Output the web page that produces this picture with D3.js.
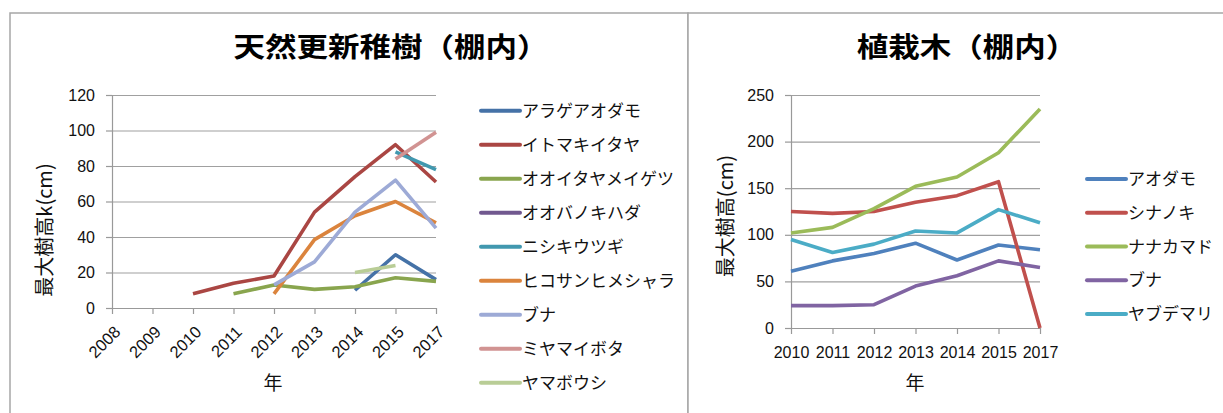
<!DOCTYPE html>
<html>
<head>
<meta charset="utf-8">
<script src="https://cdn.jsdelivr.net/npm/d3@7"></script>
<style>
  html, body { margin: 0; padding: 0; background: #fff; }
  svg { display: block; }
  .jp { font-family: "Noto Sans CJK JP", "Noto Sans", sans-serif; }
  .num { font-family: "Liberation Sans", Arial, sans-serif; }
</style>
</head>
<body>
<svg id="chart" width="1223" height="413"></svg>
<script>
// ---- 天然更新稚樹（棚内） ----
const naturalTitle = "天然更新稚樹（棚内）";
const naturalYears = ["2008", "2009", "2010", "2011", "2012", "2013", "2014", "2015", "2017"];
const naturalSpecies = ["アラゲアオダモ", "イトマキイタヤ", "オオイタヤメイゲツ", "オオバノキハダ",
  "ニシキウツギ", "ヒコサンヒメシャラ", "ブナ", "ミヤマイボタ", "ヤマボウシ"];
const araGeAodamo      = [null, null, null, null, null, null, 10, 30, 16];
const itomakiItaya     = [null, null, 8, 14, 18, 54, 74, 92, 71];
const ooitayaMeigetsu  = [null, null, null, 8, 13, 10.5, 12, 17, 15];
const oobanoKihada     = [null, null, null, null, null, null, null, null, null];
const nishikiUtsugi    = [null, null, null, null, null, null, null, 88, 78];
const hikosanHimeshara = [null, null, null, null, 8, 38.5, 52, 60, 48];
const bunaNatural      = [null, null, null, null, 13, 26, 54, 72, 45];
const miyamaIbota      = [null, null, null, null, null, null, null, 84, 99];
const yamabousi        = [null, null, null, null, null, null, 20, 24, null];
const naturalTicks = [0, 20, 40, 60, 80, 100, 120];
const naturalYLabel = "最大樹高k(cm)";

// ---- 植栽木（棚内） ----
const plantedTitle = "植栽木（棚内）";
const plantedYears = ["2010", "2011", "2012", "2013", "2014", "2015", "2017"];
const plantedSpecies = ["アオダモ", "シナノキ", "ナナカマド", "ブナ", "ヤブデマリ"];
const aodamo     = [61, 72, 80, 91, 73, 89, 84];
const shinanoki  = [125, 123, 125, 135, 142, 157, 0];
const nanakamado = [102, 108, 128, 152, 162, 188, 235];
const bunaPlanted = [24, 24, 25, 45, 56, 72, 65];
const yabudemari = [95, 81, 90, 104, 102, 127, 113];
const plantedTicks = [0, 50, 100, 150, 200, 250];
const plantedYLabel = "最大樹高(cm)";

const xLabel = "年";

const svg = d3.select("#chart");

// chart frames
svg.append("rect").attr("x", 10).attr("y", 13).attr("width", 678).attr("height", 420)
  .attr("fill", "#fff").attr("stroke", "#a6a6a6").attr("stroke-width", 1.5);
svg.append("rect").attr("x", 688).attr("y", 13).attr("width", 560).attr("height", 420)
  .attr("fill", "#fff").attr("stroke", "#a6a6a6").attr("stroke-width", 1.5);

function drawChart(cfg) {
  const g = svg.append("g");
  const x = d3.scalePoint().domain(cfg.years).range(cfg.xRange);
  const y = d3.scaleLinear().domain([0, d3.max(cfg.ticks)]).range(cfg.yRange);

  // horizontal gridlines
  g.append("g")
    .attr("transform", `translate(${cfg.xRange[0]},0)`)
    .call(d3.axisLeft(y).tickValues(cfg.ticks).tickSize(-(cfg.xRange[1] - cfg.xRange[0])).tickFormat(""))
    .call(a => a.select(".domain").remove())
    .call(a => a.selectAll("line").attr("stroke", "#a0a0a0").attr("stroke-width", 1.2));

  // y axis
  const ya = g.append("g")
    .attr("transform", `translate(${cfg.xRange[0]},0)`)
    .call(d3.axisLeft(y).tickValues(cfg.ticks).tickSize(6).tickPadding(11).tickSizeOuter(0));
  ya.select(".domain").attr("stroke", "#999").attr("stroke-width", 1.2);
  ya.selectAll("line").attr("stroke", "#999").attr("stroke-width", 1.2);
  ya.selectAll("text").attr("class", "num").attr("font-size", 16).attr("fill", "#111");

  // x axis
  const xa = g.append("g")
    .attr("transform", `translate(0,${cfg.yRange[0]})`)
    .call(d3.axisBottom(x).tickSize(6).tickPadding(cfg.xTickPadding).tickSizeOuter(0));
  xa.select(".domain").attr("stroke", "#999").attr("stroke-width", 1.2);
  xa.selectAll("line").attr("stroke", "#999").attr("stroke-width", 1.2);
  xa.selectAll("text").attr("class", "num").attr("font-size", 16).attr("fill", "#111");
  if (cfg.rotateTicks) {
    xa.selectAll("text")
      .attr("font-size", 16.5)
      .attr("text-anchor", "end")
      .attr("y", 0).attr("dy", "0.35em")
      .attr("transform", "translate(5,21) rotate(-45)");
  }

  // series lines
  const line = d3.line()
    .defined(d => d.v != null)
    .x(d => x(d.year))
    .y(d => y(d.v));
  cfg.series.forEach((s, i) => {
    const pts = cfg.years.map((yr, j) => ({ year: yr, v: s[j] }));
    g.append("path")
      .attr("d", line(pts))
      .attr("fill", "none")
      .attr("stroke", cfg.colors[i])
      .attr("stroke-width", 3.6)
      .attr("stroke-linejoin", "round");
  });

  // titles
  g.append("text").attr("class", "jp")
    .attr("x", cfg.titleX).attr("y", 57)
    .attr("text-anchor", "middle")
    .attr("font-size", 27).attr("font-weight", "bold").attr("fill", "#000")
    .attr("textLength", cfg.title.length * 31.5)
    .attr("lengthAdjust", "spacingAndGlyphs")
    .text(cfg.title);

  g.append("text").attr("class", "jp")
    .attr("transform", `translate(${cfg.yLabelX},${cfg.yLabelY}) rotate(-90)`)
    .attr("text-anchor", "middle").attr("dy", "0.35em")
    .attr("font-size", 20).attr("fill", "#111")
    .text(cfg.yLabel);

  g.append("text").attr("class", "jp")
    .attr("x", cfg.xLabelX).attr("y", 383).attr("dy", "0.35em")
    .attr("text-anchor", "middle")
    .attr("font-size", 19).attr("fill", "#111")
    .text(xLabel);

  // legend
  const lg = g.append("g");
  cfg.names.forEach((name, i) => {
    const ly = cfg.legendY + i * cfg.legendStep;
    lg.append("line")
      .attr("x1", cfg.legendX).attr("x2", cfg.legendX + 39)
      .attr("y1", ly).attr("y2", ly)
      .attr("stroke", cfg.colors[i]).attr("stroke-width", 4)
      .attr("stroke-linecap", "round");
    lg.append("text").attr("class", "jp")
      .attr("x", cfg.legendX + 41).attr("y", ly).attr("dy", "0.36em")
      .attr("font-size", 17).attr("fill", "#111")
      .text(name);
  });
}

drawChart({
  title: naturalTitle, titleX: 391,
  years: naturalYears, ticks: naturalTicks,
  xRange: [112, 436], yRange: [308, 95],
  rotateTicks: true, xTickPadding: 6,
  series: [araGeAodamo, itomakiItaya, ooitayaMeigetsu, oobanoKihada, nishikiUtsugi,
           hikosanHimeshara, bunaNatural, miyamaIbota, yamabousi],
  names: naturalSpecies,
  colors: ["#4572A7", "#AA4643", "#89A54E", "#71588F", "#4198AF", "#DB843D", "#9DAAD6", "#D19392", "#B9CD96"],
  yLabel: naturalYLabel, yLabelX: 45, yLabelY: 230,
  xLabelX: 273,
  legendX: 481, legendY: 110.7, legendStep: 34.0
});

drawChart({
  title: plantedTitle, titleX: 967,
  years: plantedYears, ticks: plantedTicks,
  xRange: [791, 1040], yRange: [328, 95],
  rotateTicks: false, xTickPadding: 13,
  series: [aodamo, shinanoki, nanakamado, bunaPlanted, yabudemari],
  names: plantedSpecies,
  colors: ["#4F81BD", "#C0504D", "#9BBB59", "#8064A2", "#4BACC6"],
  yLabel: plantedYLabel, yLabelX: 726, yLabelY: 216,
  xLabelX: 915,
  legendX: 1087, legendY: 179, legendStep: 33.75
});
</script>
</body>
</html>
